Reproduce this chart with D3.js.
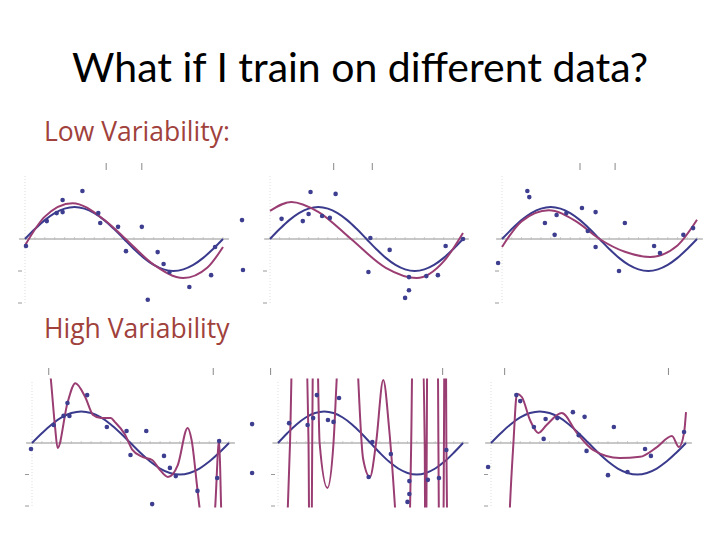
<!DOCTYPE html>
<html><head><meta charset="utf-8">
<script src="https://d3js.org/d3.v7.min.js"></script>
<style>body{margin:0;background:#fff}</style></head>
<body><svg id="c" width="720" height="540"></svg>
<script>
const titleText = "What if I train on different data?";
const rowLabels = ["Low Variability:", "High Variability"];

// data points (x in [0,1] of the sine period, y in units)
const pts1 = [[0.005,-0.22],[0.11,0.56],[0.16,0.81],[0.19,1.22],[0.19,0.84],[0.29,1.5],[0.37,0.81],[0.38,0.5],[0.47,0.38],[0.51,-0.38],[0.59,0.38],[0.62,-1.9],[0.67,-0.41],[0.70,-0.78],[0.73,-1.03],[0.83,-1.5],[0.94,-1.13],[0.96,-0.25]];
const pts2 = [[-0.145,0.59],[-0.14,-0.97],[0.06,0.63],[0.17,0.56],[0.2,0.78],[0.21,1.47],[0.27,0.72],[0.31,0.66],[0.34,1.41],[0.52,0.03],[0.51,-1.03],[0.62,-0.34],[0.72,-1.6],[0.70,-1.84],[0.72,-1.19],[0.81,-1.16],[0.87,-1.13],[0.91,-0.22],[1.0,0]];
const pts3 = [[-0.02,-0.75],[0.13,1.5],[0.14,1.31],[0.22,0.5],[0.27,0.13],[0.28,0.75],[0.33,0.81],[0.41,0.97],[0.44,0.25],[0.48,0.84],[0.48,-0.25],[0.6,-1.0],[0.63,0.5],[0.78,-0.22],[0.81,-0.44],[0.93,0.13],[0.98,0.34]];
const pts4 = [[-0.005,-0.19],[0.11,0.57],[0.16,0.86],[0.18,1.27],[0.19,0.86],[0.28,1.52],[0.38,0.51],[0.48,0.38],[0.5,-0.38],[0.58,0.38],[0.61,-1.94],[0.67,-0.41],[0.70,-0.79],[0.73,-1.05],[0.84,-1.52],[0.94,-1.11],[0.95,0.06]];
const pts5 = [[-0.14,0.6],[-0.14,-0.95],[0.06,0.63],[0.16,0.57],[0.19,0.79],[0.21,1.52],[0.27,0.73],[0.3,0.67],[0.33,1.43],[0.51,0.03],[0.49,-1.08],[0.61,-0.35],[0.7,-1.87],[0.71,-1.62],[0.71,-1.21],[0.81,-1.17],[0.87,-1.11],[0.91,-0.22]];
const pts6 = [[-0.015,-0.76],[0.13,1.52],[0.15,1.33],[0.22,0.51],[0.27,0.13],[0.28,0.76],[0.34,0.79],[0.42,0.98],[0.45,0.25],[0.48,0.83],[0.49,-0.25],[0.6,-1.02],[0.63,0.51],[0.7,-0.92],[0.79,-0.19],[0.82,-0.41],[0.99,0.35]];

// true function samples (blue)
const trueX = [0,0.05,0.1,0.15,0.2,0.25,0.3,0.35,0.4,0.45,0.5,0.55,0.6,0.65,0.7,0.75,0.8,0.85,0.9,0.95,1];
const trueY = [0,0.31,0.59,0.81,0.95,1,0.95,0.81,0.59,0.31,0,-0.31,-0.59,-0.81,-0.95,-1,-0.95,-0.81,-0.59,-0.31,0];

// fitted curves (purple)
const fit1 = [[0,-0.2],[0.1,0.7],[0.24,1.12],[0.4,0.6],[0.5,0.05],[0.65,-0.8],[0.8,-1.22],[0.92,-0.9],[1,-0.25]];
const fit2 = [[0,0.88],[0.11,1.16],[0.25,0.85],[0.42,0.0],[0.6,-0.9],[0.76,-1.22],[0.9,-0.7],[1.0,0.19]];
const fit3 = [[0,-0.25],[0.1,0.55],[0.24,0.9],[0.38,0.55],[0.5,0.0],[0.63,-0.4],[0.76,-0.56],[0.9,-0.2],[1.0,0.6]];
const fit4 = [[0.08,3],[0.096,2.0],[0.117,0.51],[0.13,-0.16],[0.18,1.27],[0.22,1.9],[0.27,1.46],[0.31,0.89],[0.35,0.79],[0.40,0.79],[0.42,0.67],[0.47,0.29],[0.51,-0.22],[0.56,-0.44],[0.61,-0.54],[0.65,-0.86],[0.69,-1.08],[0.74,-0.70],[0.79,0.48],[0.81,0.1],[0.84,-1.49],[0.85,-2.03],[0.89,-5],[0.93,-2.03],[0.95,0.1],[0.96,-2.03],[0.98,-5]];
const fit5 = [[0.03,-6],[0.065,0],[0.09,6],[0.13,6],[0.165,0],[0.172,-6],[0.178,-6],[0.185,0],[0.195,6],[0.21,4],[0.225,0],[0.267,-1.43],[0.3,0],[0.317,2.0],[0.37,8],[0.42,4],[0.434,2],[0.46,-0.5],[0.497,-1.08],[0.53,0],[0.569,2.0],[0.6,0.5],[0.632,-2],[0.67,-6],[0.7,-4],[0.714,-2],[0.72,0],[0.73,4],[0.775,4],[0.793,0],[0.798,-6],[0.804,0],[0.81,6],[0.86,6],[0.867,0],[0.875,-6],[0.89,-6],[0.897,0],[0.902,6],[0.905,6],[0.91,0],[0.92,-6]];
const fit6 = [[0.085,-4],[0.097,-2.03],[0.115,0],[0.133,1.56],[0.158,1.46],[0.2,0.73],[0.243,0.32],[0.285,0.57],[0.363,0.95],[0.44,0.32],[0.523,-0.22],[0.66,-0.48],[0.764,-0.44],[0.851,-0.13],[0.928,0.22],[0.964,-0.13],[0.99,0.32],[1.0,0.98]];

// bracket marks above each plot (x positions)
const brackets = [[0.41,0.59],[0.33,0.53],[0.4,0.58],[0.085,0.92],[-0.04,0.89],[0.07,0.91]];

const panels = [
  {pts:pts1, fit:fit1, x0:25,  x1:223, zero:239, unit:32},
  {pts:pts2, fit:fit2, x0:270, x1:463, zero:239, unit:32},
  {pts:pts3, fit:fit3, x0:502, x1:697, zero:239, unit:32},
  {pts:pts4, fit:fit4, x0:32,  x1:229, zero:443, unit:31.5},
  {pts:pts5, fit:fit5, x0:278, x1:463, zero:443, unit:31.5},
  {pts:pts6, fit:fit6, x0:491, x1:686, zero:443, unit:31.5}
];

const svg = d3.select("#c");
svg.append("text").attr("x",360).attr("y",82).attr("text-anchor","middle")
  .attr("font-family","Lato, 'Open Sans', sans-serif").attr("font-size",41).attr("fill","#000").text(titleText);
svg.append("text").attr("x",44).attr("y",141).attr("font-family","'Open Sans', Lato, sans-serif")
  .attr("font-size",26.5).attr("fill","#a0413c").text(rowLabels[0]);
svg.append("text").attr("x",44).attr("y",338).attr("font-family","'Open Sans', Lato, sans-serif")
  .attr("font-size",26.5).attr("fill","#a0413c").text(rowLabels[1]);

const blue="#3b3b8e", purple="#9a3d72", dot="#3e3e90";
panels.forEach((p,i)=>{
  const x = d3.scaleLinear().domain([0,1]).range([p.x0,p.x1]);
  const y = d3.scaleLinear().domain([-2,2]).range([p.zero+2*p.unit, p.zero-2*p.unit]);
  const g = svg.append("g");
  const id="clip"+i;
  g.append("clipPath").attr("id",id).append("rect")
    .attr("x",x(-0.2)).attr("y",y(2.05)).attr("width",x(1.08)-x(-0.2)).attr("height",y(-2.05)-y(2.05));
  g.append("line").attr("x1",x(-0.03)).attr("x2",x(1.03)).attr("y1",y(0)).attr("y2",y(0))
    .attr("stroke","#c8c8c8").attr("stroke-width",2);
  const xt = d3.range(0,1.001,0.05);
  g.selectAll(".xt").data(xt).join("line").attr("x1",d=>x(d)).attr("x2",d=>x(d))
    .attr("y1",y(0)-2).attr("y2",y(0)+1).attr("stroke","#bbb").attr("stroke-width",0.7);
  g.append("line").attr("x1",x(0)).attr("x2",x(0)).attr("y1",y(-2)).attr("y2",y(2))
    .attr("stroke","#ddd").attr("stroke-width",1).attr("stroke-dasharray","1,2");
  g.selectAll(".yt").data([-2,-1]).join("line").attr("x1",x(0)-7).attr("x2",x(0)-3)
    .attr("y1",d=>y(d)).attr("y2",d=>y(d)).attr("stroke","#999").attr("stroke-width",1);
  g.selectAll(".br").data(brackets[i]).join("line").attr("x1",d=>x(d)).attr("x2",d=>x(d))
    .attr("y1",y(2)-12).attr("y2",y(2)-5).attr("stroke","#888").attr("stroke-width",1);
  const cg = g.append("g").attr("clip-path",`url(#${id})`);
  const line = d3.line().x(d=>x(d[0])).y(d=>y(d[1]));
  cg.append("path").datum(trueX.map((v,k)=>[v,trueY[k]]))
    .attr("d",line.curve(d3.curveCatmullRom)).attr("fill","none").attr("stroke",blue).attr("stroke-width",2);
  cg.append("path")
    .attr("d",d3.line().x(d=>x(d[0])).y(d=>y(d[1])).curve(d3.curveMonotoneX)(p.fit))
    .attr("fill","none").attr("stroke",purple).attr("stroke-width",2);
  g.selectAll(".pt").data(p.pts).join("circle").attr("cx",d=>x(d[0])).attr("cy",d=>y(d[1]))
    .attr("r",2.3).attr("fill",dot);
});
</script></body></html>
